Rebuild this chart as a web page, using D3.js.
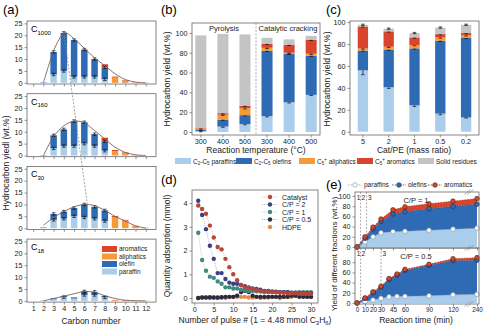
<!DOCTYPE html>
<html>
<head>
<meta charset="utf-8">
<script src="https://cdn.jsdelivr.net/npm/d3@7"></script>
<style>
  body { margin: 0; background: #fff; }
  svg { font-family: "Liberation Sans", Arial, sans-serif; }
</style>
</head>
<body>
<div id="chart"></div>
<script>
// ---------- data ----------
// (a) carbon number distributions
const carbonNumbers = [1, 2, 3, 4, 5, 6, 7, 8, 9, 10, 11, 12];
const c1000Paraffin = [0, 0.2, 3.5, 5, 2.5, 2.5, 2.5, 1.5, 0, 0, 0, 0];
const c1000Olefin   = [0, 0.1, 9.5, 16, 15.5, 11.5, 7.5, 5, 0, 0, 0, 0];
const c1000Aliph    = [0, 0, 0, 0, 0, 0, 0, 0, 2.2, 0.6, 0.1, 0.1];
const c1000Arom     = [0, 0, 0, 0, 0, 0, 0, 1.3, 0.4, 0.4, 0.1, 0];
const c1000Fit      = [null, 0, 13.5, 21, 18.5, 14.5, 10.5, 7.2, 3.8, 1.4, 0.3, 0];

const c160Paraffin = [0, 0.1, 3, 4, 4, 5, 4, 2, 0, 0, 0, 0];
const c160Olefin   = [0, 0.1, 5.5, 7, 10.5, 9, 5, 4, 0, 0, 0, 0];
const c160Aliph    = [0, 0, 0, 0, 0, 0, 0, 0, 1.8, 1.0, 0.2, 0];
const c160Arom     = [0, 0, 0, 0, 0, 0, 0, 1.5, 0.5, 0.3, 0, 0];
const c160Fit      = [null, 0, 8, 12.5, 14.5, 13.8, 10.5, 7, 3.5, 1.3, 0.3, 0];

const c30Paraffin = [0, 0.1, 3.5, 4, 5, 4.5, 4, 3, 0, 0, 0, 0];
const c30Olefin   = [0, 0.2, 2.5, 3, 3.5, 5.5, 5, 4.5, 0, 0, 0, 0];
const c30Aliph    = [0, 0, 0, 0, 0, 0, 0, 0, 4.5, 3.2, 0.8, 0.1];
const c30Arom     = [0, 0, 0, 0, 0, 0, 0, 0, 0.6, 0.3, 0.2, 0.1];
const c30Fit      = [null, 1.2, 4.5, 7, 9, 10, 9.5, 7.5, 5, 3, 1, 0];

const c18Paraffin = [0, 0, 0.7, 1.6, 1, 2.5, 2.5, 1.5, 0, 0, 0, 0];
const c18Olefin   = [0, 0.1, 0.4, 0.5, 0.5, 1.5, 1.3, 0.6, 0, 0, 0, 0];
const c18Aliph    = [0, 0, 0, 0, 0, 0, 0, 0, 0.3, 0.2, 0.1, 0.1];
const c18Arom     = [0, 0, 0, 0, 0, 0, 0, 0, 0.1, 0.1, 0, 0];
const c18Fit      = [null, 0, 1, 2, 3, 4, 3.6, 2.2, 1, 0.3, 0.1, 0];

// (b) reaction temperature
const bTemps    = ["300", "400", "500", "300 ", "400 ", "500 "];
const bParaffin = [1, 5.5, 8, 16, 30, 37.5];
const bOlefin   = [1, 7, 9, 66, 49, 39.5];
const bAliph    = [1.5, 5, 7, 3, 1, 2];
const bArom     = [0.5, 1.5, 2.5, 4, 8, 14];
const bSolid    = [93.5, 80, 72, 6, 5.5, 4];

// (c) cat/PE ratio
const cRatios   = ["5", "2", "1", "0.5", "0.2"];
const cParaffin = [56, 40.5, 24, 16.5, 13];
const cOlefin   = [18, 34.5, 52, 66.5, 72.5];
const cAliph    = [2, 2.5, 3, 3, 2.5];
const cArom     = [20, 14, 7, 3, 2];
const cSolid    = [1.5, 2.5, 4, 6, 7.5];
const cParaffinErr = [4, 1, 1, 1, 0.5];

// (d) pulse adsorption
const pulses = d3.range(1, 31);
const dCatalyst = [3.9, 3.75, 3.55, 3.05, 2.55, 2.15, 2.05, 1.65, 1.3, 1.0, 0.75, 0.55, 0.45, 0.42, 0.38, 0.33, 0.3, 0.28, 0.27, 0.25, 0.24, 0.22, 0.22, 0.2, 0.2, 0.2, 0.18, 0.18, 0.18, 0.18];
const dCP2 = [4.1, 3.5, 2.9, 2.2, 1.65, 1.05, 1.05, 0.8, 0.65, 0.6, 0.6, 0.55, 0.5, 0.45, 0.4, 0.38, 0.35, 0.3, 0.3, 0.28, 0.27, 0.25, 0.25, 0.25, 0.22, 0.22, 0.2, 0.2, 0.2, 0.2];
const dCP1 = [2.75, 1.6, 1.15, 0.9, 0.85, 0.7, 0.6, 0.45, 0.45, 0.4, 0.4, 0.35, 0.33, 0.3, 0.3, 0.28, 0.27, 0.25, 0.25, 0.25, 0.25, 0.25, 0.25, 0.25, 0.22, 0.22, 0.25, 0.25, 0.25, 0.25];
const dCP05 = [0, 0.02, 0.02, 0.03, 0.02, 0.02, 0.03, 0.05, 0.05, 0.05, 0.1, 0.25, 0.3, 0.25, 0.1, 0.05, 0.05, 0.05, 0.05, 0.05, 0.05, 0.05, 0.05, 0.05, 0.1, 0.1, 0.05, 0.05, 0.05, 0.05];
const dHDPE = [0, 0.02, 0.02, 0, 0.02, 0, 0.02, 0, 0.05, 0.05, 0.05, 0.05, 0.05, 0.02, 0.02, 0.05, 0, 0.02, 0.02, 0.05, 0.05, 0, 0.05, 0.05, 0.05, 0.1, 0.1, 0.1, 0.05, 0.05];
const dNames = ["Catalyst", "C/P = 2", "C/P = 1", "C/P = 0.5", "HDPE"];

// (e) time evolution (cumulative tops)
const eTimes1 = [0, 10, 20, 30, 45, 60, 90, 120, 240];
const e1Paraffin = [0, 10, 20, 28, 30, 31, 33, 35, 37];
const e1Olefin   = [0, 17, 35, 50, 65, 69, 75, 80, 84];
const e1Arom     = [0, 20, 39, 55, 73, 79, 85, 90, 95];
const eTimes2 = [0, 10, 20, 30, 40, 50, 60, 90, 120, 240];
const e2Paraffin = [0, 3, 6, 9, 12, 13, 13, 14, 16, 17];
const e2Olefin   = [0, 9, 20, 31, 46, 55, 64, 74, 83, 84];
const e2Arom     = [0, 10, 22, 33, 48, 57, 66, 76, 87, 89];
const eTicks = [0, 10, 20, 30, 45, 60, 90, 120, 240];

// ---------- style ----------
const colParaffin = "#a9cdea", colOlefin = "#2e6bb4", colAliph = "#f59a36",
      colArom = "#d8452c", colSolid = "#c4c4c4";
const dColors = ["#b4473b", "#3c3f80", "#3f8a7f", "#2b2b40", "#e58a4e"];
const frameColor = "#666";

const svg = d3.select("#chart").append("svg")
  .attr("width", 485).attr("height", 327);

function frame(x0, y0, x1, y1) {
  svg.append("rect")
    .attr("x", x0).attr("y", y0)
    .attr("width", x1 - x0).attr("height", y1 - y0)
    .attr("fill", "none").attr("stroke", frameColor).attr("stroke-width", 0.8);
}

function styleAxis(g, fs) {
  g.select(".domain").remove();
  g.selectAll("line").attr("stroke", frameColor).attr("stroke-width", 0.7);
  g.selectAll("text").attr("font-size", fs || 7.2).attr("fill", "#222");
}

function panelLabel(x, y, t) {
  svg.append("text").attr("x", x).attr("y", y).attr("font-size", 13).text(t);
}

function yTitle(x, y, t, fs) {
  svg.append("text")
    .attr("transform", `translate(${x},${y}) rotate(-90)`)
    .attr("text-anchor", "middle").attr("font-size", fs || 8.5).attr("fill", "#222")
    .text(t);
}

function errBar(x, y, w) {
  svg.append("line").attr("x1", x).attr("x2", x).attr("y1", y[0]).attr("y2", y[1])
    .attr("stroke", "#111").attr("stroke-width", 0.7);
  [y[0], y[1]].forEach(yy => svg.append("line")
    .attr("x1", x - w).attr("x2", x + w).attr("y1", yy).attr("y2", yy)
    .attr("stroke", "#111").attr("stroke-width", 0.7));
}

// ---------- (a) ----------
panelLabel(3, 14, "(a)");
const aX = d3.scaleLinear().domain([0.4, 13]).range([27, 156]);
const aPanels = [
  { sub: "1000", p: c1000Paraffin, o: c1000Olefin, al: c1000Aliph, ar: c1000Arom, fit: c1000Fit },
  { sub: "160",  p: c160Paraffin,  o: c160Olefin,  al: c160Aliph,  ar: c160Arom,  fit: c160Fit },
  { sub: "30",   p: c30Paraffin,   o: c30Olefin,   al: c30Aliph,   ar: c30Arom,   fit: c30Fit },
  { sub: "18",   p: c18Paraffin,   o: c18Olefin,   al: c18Aliph,   ar: c18Arom,   fit: c18Fit }
];
const aKeys = ["paraffin", "olefin", "aliphatic", "aromatic"];
const aCols = [colParaffin, colOlefin, colAliph, colArom];
const aY = [];

aPanels.forEach((pn, i) => {
  const top = 21 + i * 72.7, bottom = top + 63;
  const y = d3.scaleLinear().domain([-0.5, 26]).range([bottom, top]);
  aY.push(y);
  const rows = carbonNumbers.map((c, j) => ({
    c, paraffin: pn.p[j], olefin: pn.o[j], aliphatic: pn.al[j], aromatic: pn.ar[j]
  }));
  const series = d3.stack().keys(aKeys)(rows);
  const bw = 6.5;
  series.forEach((s, k) => {
    svg.append("g").selectAll("rect").data(s.filter(d => d[1] - d[0] > 0)).join("rect")
      .attr("x", d => aX(d.data.c) - bw / 2)
      .attr("width", bw)
      .attr("y", d => y(d[1]))
      .attr("height", d => y(d[0]) - y(d[1]))
      .attr("fill", aCols[k]);
  });
  // small error bars on segment tops
  series.slice(0, 2).forEach(s => s.forEach(d => {
    if (d[1] - d[0] > 1) errBar(aX(d.data.c), [y(d[1] + 0.5), y(d[1] - 0.5)], 1.8);
  }));
  // smooth envelope
  const fitPts = carbonNumbers.map((c, j) => [c, pn.fit[j]]).filter(d => d[1] !== null);
  svg.append("path").datum(fitPts)
    .attr("d", d3.line().x(d => aX(d[0])).y(d => y(d[1])).curve(d3.curveCardinal.tension(0.2)))
    .attr("fill", "none").attr("stroke", "#7d5d5a").attr("stroke-width", 0.9);

  frame(27, top, 156, bottom);
  const ya = svg.append("g").attr("transform", "translate(27,0)")
    .call(d3.axisLeft(y).tickValues([0, 5, 10, 15, 20, 25]).tickSize(2.5).tickPadding(2));
  styleAxis(ya);
  const xa = svg.append("g").attr("transform", `translate(0,${bottom})`)
    .call(d3.axisBottom(aX).tickValues(carbonNumbers).tickSize(2.5).tickPadding(1.5)
      .tickFormat(i === 3 ? d3.format("d") : ""));
  styleAxis(xa);

  const lab = svg.append("text").attr("x", 31).attr("y", top + 11).attr("font-size", 9);
  lab.append("tspan").text("C");
  lab.append("tspan").attr("dy", 2.5).attr("font-size", 6).text(pn.sub);
});

// dashed link between the peaks
svg.append("line")
  .attr("x1", aX(4)).attr("y1", aY[0](21))
  .attr("x2", aX(6.3)).attr("y2", aY[2](10))
  .attr("stroke", "#888").attr("stroke-width", 0.8).attr("stroke-dasharray", "2,1.5");

yTitle(9, 163, "Hydrocarbon yiedl (wt.%)");
svg.append("text").attr("x", 91).attr("y", 324).attr("text-anchor", "middle")
  .attr("font-size", 8.5).attr("fill", "#222").text("Carbon number");

// legend inside last (a) panel
const aLegend = [["aromatics", colArom], ["aliphatics", colAliph], ["olefin", colOlefin], ["paraffin", colParaffin]];
aLegend.forEach((d, k) => {
  const yy = 246 + k * 7.5;
  svg.append("rect").attr("x", 102).attr("y", yy).attr("width", 15).attr("height", 6).attr("fill", d[1]);
  svg.append("text").attr("x", 119).attr("y", yy + 5.3).attr("font-size", 6.5).attr("fill", "#222").text(d[0]);
});

// ---------- (b) ----------
panelLabel(161, 14, "(b)");
const bX = d3.scaleBand().domain(bTemps).range([192, 320]).paddingInner(0.5).paddingOuter(0.15);
const bY = d3.scaleLinear().domain([-3, 110]).range([135, 23]);
const stackKeys = ["paraffin", "olefin", "aliphatic", "aromatic", "solid"];
const stackCols = [colParaffin, colOlefin, colAliph, colArom, colSolid];
const bRows = bTemps.map((t, j) => ({
  t, paraffin: bParaffin[j], olefin: bOlefin[j], aliphatic: bAliph[j], aromatic: bArom[j], solid: bSolid[j]
}));
d3.stack().keys(stackKeys)(bRows).forEach((s, k) => {
  svg.append("g").selectAll("rect").data(s).join("rect")
    .attr("x", d => bX(d.data.t)).attr("width", bX.bandwidth())
    .attr("y", d => bY(d[1])).attr("height", d => bY(d[0]) - bY(d[1]))
    .attr("fill", stackCols[k]);
  if (k < 4) s.forEach(d => {
    if (d[1] - d[0] > 0.8) errBar(bX(d.data.t) + bX.bandwidth() / 2, [bY(d[1] + 0.7), bY(d[1] - 0.7)], 1.8);
  });
});
const bSep = (bX(bTemps[2]) + bX.bandwidth() + bX(bTemps[3])) / 2;
svg.append("line").attr("x1", bSep).attr("x2", bSep).attr("y1", 23).attr("y2", 135)
  .attr("stroke", "#999").attr("stroke-width", 0.8).attr("stroke-dasharray", "2,1.5");
frame(192, 23, 320, 135);
styleAxis(svg.append("g").attr("transform", "translate(192,0)")
  .call(d3.axisLeft(bY).tickValues([0, 20, 40, 60, 80, 100]).tickSize(2.5).tickPadding(2)));
styleAxis(svg.append("g").attr("transform", "translate(0,135)")
  .call(d3.axisBottom(bX).tickSize(2.5).tickPadding(1.5)));
svg.append("text").attr("x", (192 + bSep) / 2).attr("y", 31).attr("text-anchor", "middle")
  .attr("font-size", 7.5).attr("fill", "#222").text("Pyrolysis");
svg.append("text").attr("x", (bSep + 320) / 2).attr("y", 31).attr("text-anchor", "middle")
  .attr("font-size", 7.5).attr("fill", "#222").text("Catalytic cracking");
yTitle(170, 79, "Hydrocarbon yield (wt.%)");
svg.append("text").attr("x", 256).attr("y", 153).attr("text-anchor", "middle")
  .attr("font-size", 8.5).attr("fill", "#222").text("Reaction temperature (°C)");

// ---------- (c) ----------
panelLabel(326, 14, "(c)");
const cX = d3.scaleBand().domain(cRatios).range([350, 479]).paddingInner(0.6).paddingOuter(0.3);
const cY = d3.scaleLinear().domain([-3, 101]).range([135, 21]);
const cRows = cRatios.map((t, j) => ({
  t, paraffin: cParaffin[j], olefin: cOlefin[j], aliphatic: cAliph[j], aromatic: cArom[j], solid: cSolid[j]
}));
d3.stack().keys(stackKeys)(cRows).forEach((s, k) => {
  svg.append("g").selectAll("rect").data(s).join("rect")
    .attr("x", d => cX(d.data.t)).attr("width", cX.bandwidth())
    .attr("y", d => cY(d[1])).attr("height", d => cY(d[0]) - cY(d[1]))
    .attr("fill", stackCols[k]);
  s.forEach((d, j) => {
    const e = k === 0 ? cParaffinErr[j] : 0.6;
    errBar(cX(d.data.t) + cX.bandwidth() / 2, [cY(d[1] + e), cY(d[1] - e)], 1.8);
  });
});
frame(350, 21, 479, 135);
styleAxis(svg.append("g").attr("transform", "translate(350,0)")
  .call(d3.axisLeft(cY).tickValues([0, 20, 40, 60, 80, 100]).tickSize(2.5).tickPadding(2)));
styleAxis(svg.append("g").attr("transform", "translate(0,135)")
  .call(d3.axisBottom(cX).tickSize(2.5).tickPadding(1.5)));
yTitle(330, 79, "Hydrocarbon yield (wt.%)");
svg.append("text").attr("x", 414).attr("y", 153).attr("text-anchor", "middle")
  .attr("font-size", 8.5).attr("fill", "#222").text("Cat/PE (mass ratio)");

// shared legend for (b) and (c)
const bcLegend = [
  [["C", "2", "-C", "5", " paraffins"], colParaffin, 175],
  [["C", "2", "-C", "5", " olefins"], colOlefin, 236],
  [["C", "5", "+", "", " aliphatics"], colAliph, 299],
  [["C", "5", "+", "", " aromatics"], colArom, 357],
  [["Solid residues"], colSolid, 418]
];
bcLegend.forEach(d => {
  svg.append("rect").attr("x", d[2]).attr("y", 158).attr("width", 16).attr("height", 6).attr("fill", d[1]);
  const t = svg.append("text").attr("x", d[2] + 18).attr("y", 163.5).attr("font-size", 6.5).attr("fill", "#222");
  if (d[0].length === 1) { t.text(d[0][0]); return; }
  t.append("tspan").text(d[0][0]);
  t.append("tspan").attr("font-size", 4.5).attr("dy", 1.5).text(d[0][1]);
  if (d[0][2] === "+") {
    t.append("tspan").attr("font-size", 4.5).attr("dy", -4).text("+");
    t.append("tspan").attr("dy", 2.5).text(d[0][4]);
  } else {
    t.append("tspan").attr("dy", -1.5).text(d[0][2]);
    t.append("tspan").attr("font-size", 4.5).attr("dy", 1.5).text(d[0][3]);
    t.append("tspan").attr("dy", -1.5).text(d[0][4]);
  }
});

// ---------- (d) ----------
panelLabel(161, 184, "(d)");
const dX = d3.scaleLinear().domain([-0.6, 31.8]).range([192, 318]);
const dY = d3.scaleLinear().domain([-0.21, 4.55]).range([303, 190]);
const dSeries = [dCatalyst, dCP2, dCP1, dCP05, dHDPE];
dSeries.slice().reverse().forEach((vals, rk) => {
  const k = dSeries.length - 1 - rk;
  const pts = pulses.map((p, j) => [p, vals[j]]);
  svg.append("path").datum(pts)
    .attr("d", d3.line().x(d => dX(d[0])).y(d => dY(d[1])))
    .attr("fill", "none").attr("stroke", dColors[k]).attr("stroke-opacity", 0.6)
    .attr("stroke-width", 0.7).attr("stroke-dasharray", "1,1.3");
  svg.append("g").selectAll("circle").data(pts).join("circle")
    .attr("cx", d => dX(d[0])).attr("cy", d => dY(d[1])).attr("r", 2.2)
    .attr("fill", dColors[k]);
});
frame(192, 190, 318, 303);
styleAxis(svg.append("g").attr("transform", "translate(192,0)")
  .call(d3.axisLeft(dY).tickValues([0, 1, 2, 3, 4]).tickFormat(d3.format("d")).tickSize(2.5).tickPadding(2)));
styleAxis(svg.append("g").attr("transform", "translate(0,303)")
  .call(d3.axisBottom(dX).tickValues([0, 5, 10, 15, 20, 25, 30]).tickSize(2.5).tickPadding(1.5)));
dNames.forEach((n, k) => {
  const yy = 197 + k * 7.5;
  svg.append("line").attr("x1", 262).attr("x2", 278).attr("y1", yy).attr("y2", yy)
    .attr("stroke", dColors[k]).attr("stroke-opacity", 0.6).attr("stroke-width", 0.7)
    .attr("stroke-dasharray", "1,1.3");
  svg.append("circle").attr("cx", 270).attr("cy", yy).attr("r", 2.2).attr("fill", dColors[k]);
  svg.append("text").attr("x", 282).attr("y", yy + 2.5).attr("font-size", 7).attr("fill", "#222").text(n);
});
yTitle(170, 246, "Quantity adsorption (mmol)");
const dxt = svg.append("text").attr("x", 255).attr("y", 323).attr("text-anchor", "middle")
  .attr("font-size", 8.5).attr("fill", "#222");
dxt.append("tspan").text("Number of pulse # (1 = 4.48 mmol C");
dxt.append("tspan").attr("font-size", 6).attr("dy", 2).text("3");
dxt.append("tspan").attr("dy", -2).text("H");
dxt.append("tspan").attr("font-size", 6).attr("dy", 2).text("6");
dxt.append("tspan").attr("dy", -2).text(")");

// ---------- (e) ----------
panelLabel(326, 189, "(e)");
const eX = d3.scaleLinear().domain([0, 120, 240]).range([357, 453, 477]);
const ePanels = [
  { t: eTimes1, p: e1Paraffin, o: e1Olefin, a: e1Arom, top: 192, label: "C/P = 1", lines: [4.5, 12], marks: [["1", 2], ["2", 8], ["3", 16]] },
  { t: eTimes2, p: e2Paraffin, o: e2Olefin, a: e2Arom, top: 248, label: "C/P = 0.5", lines: [4.5, 30], marks: [["1", 2], ["2", 8], ["3", 34]] }
];
ePanels.forEach((pn, i) => {
  const bottom = pn.top + 56;
  const y = d3.scaleLinear().domain([-2, 108]).range([bottom, pn.top]);
  const rows = pn.t.map((t, j) => ({ t, p: pn.p[j], o: pn.o[j], a: pn.a[j] }));
  const area = (lo, hi) => d3.area().x(d => eX(d.t)).y0(d => y(lo(d))).y1(d => y(hi(d)));
  svg.append("path").datum(rows).attr("d", area(d => 0, d => d.p)).attr("fill", colParaffin);
  svg.append("path").datum(rows).attr("d", area(d => d.p, d => d.o)).attr("fill", colOlefin);
  svg.append("path").datum(rows).attr("d", area(d => d.o, d => d.a)).attr("fill", colArom);

  pn.lines.forEach(t => svg.append("line").attr("x1", eX(t)).attr("x2", eX(t))
    .attr("y1", pn.top).attr("y2", bottom)
    .attr("stroke", "#888").attr("stroke-width", 0.7).attr("stroke-dasharray", "2,1.5"));
  pn.marks.forEach(m => svg.append("text").attr("x", eX(m[1])).attr("y", pn.top + 8)
    .attr("text-anchor", "middle").attr("font-size", 6.5).attr("fill", "#222").text(m[0]));

  const layers = [
    { key: "p", line: "#7f93a6", fill: "#fff", stroke: "#7f93a6" },
    { key: "o", line: "#1f4f8c", fill: colOlefin, stroke: "#1b2f4f" },
    { key: "a", line: "#b03a25", fill: colArom, stroke: "#4a1f18" }
  ];
  layers.forEach(l => {
    svg.append("path").datum(rows)
      .attr("d", d3.line().x(d => eX(d.t)).y(d => y(d[l.key])))
      .attr("fill", "none").attr("stroke", l.line).attr("stroke-width", 0.7)
      .attr("stroke-dasharray", "1.5,1.2");
    svg.append("g").selectAll("circle").data(rows).join("circle")
      .attr("cx", d => eX(d.t)).attr("cy", d => y(d[l.key])).attr("r", 2.3)
      .attr("fill", l.fill).attr("stroke", l.stroke).attr("stroke-width", 0.6);
  });

  svg.append("text").attr("x", 416).attr("y", pn.top + 11).attr("text-anchor", "middle")
    .attr("font-size", 7.5).attr("fill", "#222").text(pn.label);

  frame(355, pn.top, 479, bottom);
  styleAxis(svg.append("g").attr("transform", "translate(355,0)")
    .call(d3.axisLeft(y).tickValues(i === 0 ? [0, 20, 40, 60, 80, 100] : [0, 20, 40, 60, 80])
      .tickSize(2.5).tickPadding(2)));
  styleAxis(svg.append("g").attr("transform", `translate(0,${bottom})`)
    .call(d3.axisBottom(eX).tickValues(eTicks).tickSize(2.5).tickPadding(1.5)
      .tickFormat(i === 1 ? d3.format("d") : "")), 6.3);
  // axis break marks
  [-1.5, 1.5].forEach(off => svg.append("line")
    .attr("x1", eX(200) + off - 3).attr("x2", eX(200) + off + 3)
    .attr("y1", bottom + 2.5).attr("y2", bottom - 2.5)
    .attr("stroke", "#888").attr("stroke-width", 0.7));
});
[-1.5, 1.5].forEach(off => svg.append("line")
  .attr("x1", eX(200) + off - 3).attr("x2", eX(200) + off + 3)
  .attr("y1", 194.5).attr("y2", 189.5)
  .attr("stroke", "#888").attr("stroke-width", 0.7));

// (e) legend
const eLegend = [
  ["paraffins", "#fff", "#7f93a6", 355],
  ["olefins", colOlefin, "#1b2f4f", 399],
  ["aromatics", colArom, "#4a1f18", 435]
];
eLegend.forEach(d => {
  svg.append("line").attr("x1", d[3] - 7).attr("x2", d[3] + 7).attr("y1", 185).attr("y2", 185)
    .attr("stroke", d[2]).attr("stroke-width", 0.7).attr("stroke-dasharray", "1.5,1.2");
  svg.append("circle").attr("cx", d[3]).attr("cy", 185).attr("r", 2.3)
    .attr("fill", d[1]).attr("stroke", d[2]).attr("stroke-width", 0.6);
  svg.append("text").attr("x", d[3] + 9).attr("y", 187.3).attr("font-size", 6.5).attr("fill", "#222").text(d[0]);
});
yTitle(337, 254, "Yield of different fractions (wt.%)", 8);
svg.append("text").attr("x", 416).attr("y", 323).attr("text-anchor", "middle")
  .attr("font-size", 8.5).attr("fill", "#222").text("Reaction time (min)");
</script>
</body>
</html>
